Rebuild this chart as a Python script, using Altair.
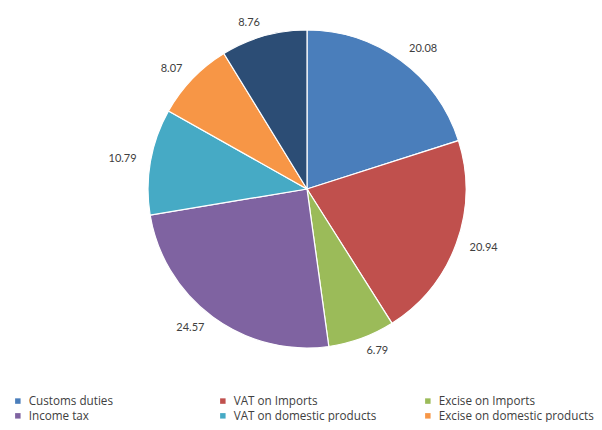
import altair as alt
import pandas as pd
import math

categories = ["Customs duties", "VAT on Imports", "Excise on Imports", "Income tax",
              "VAT on domestic products", "Excise on domestic products", "Other taxes"]
values = [20.08, 20.94, 6.79, 24.57, 10.79, 8.07, 8.76]
labels = ["20.08", "20.94", "6.79", "24.57", "10.79", "8.07", "8.76"]
colors = ["#4A7EBB", "#C0504D", "#9BBB59", "#7F63A1", "#46AAC5", "#F79646", "#2C4D75"]

df = pd.DataFrame({"category": categories, "value": values, "label": labels,
                   "idx": list(range(len(categories)))})
total = sum(values)

CX, CY = 299, 181
theta_scale = alt.Scale(domain=[0, total], range=[0, 2 * math.pi])

arcs = alt.Chart(df).mark_arc(radius=159, stroke="white", strokeWidth=1.2).encode(
    theta=alt.Theta("value:Q", stack=True, scale=theta_scale),
    order=alt.Order("idx:Q", sort="ascending"),
    x=alt.value(CX), y=alt.value(CY),
    color=alt.Color("category:N",
                    scale=alt.Scale(domain=categories, range=colors),
                    legend=alt.Legend(
                        title=None, orient="none", legendX=4, legendY=387,
                        direction="horizontal",
                        columns=3, gridAlign="all", columnPadding=33,
                        rowPadding=2, symbolType="square", symbolSize=30,
                        symbolStrokeWidth=0, labelFont="Open Sans", labelFontSize=11.7,
                        labelColor="#404040", symbolOffset=0, labelOffset=5)),
)

lab = alt.Chart(df).transform_window(
    cum="sum(value)", sort=[alt.SortField("idx")]
).transform_calculate(mid="datum.cum - datum.value / 2")


def label_layer(side_filter, align):
    return lab.transform_filter(side_filter).mark_text(
        radius=173, font="Lato", fontSize=11, color="#404040", align=align,
        baseline="middle").encode(
        theta=alt.Theta("mid:Q", stack=None, scale=theta_scale),
        x=alt.value(CX), y=alt.value(CY),
        text="label:N",
    )


right = label_layer("datum.idx <= 2", "left")
left = label_layer("datum.idx > 2", "right")

chart = (arcs + right + left).properties(
    width=586, height=414, padding=0,
    autosize=alt.AutoSizeParams(type="none"),
).configure_view(stroke=None)

chart.save("out.html", embed_options={"renderer": "svg", "actions": False})
